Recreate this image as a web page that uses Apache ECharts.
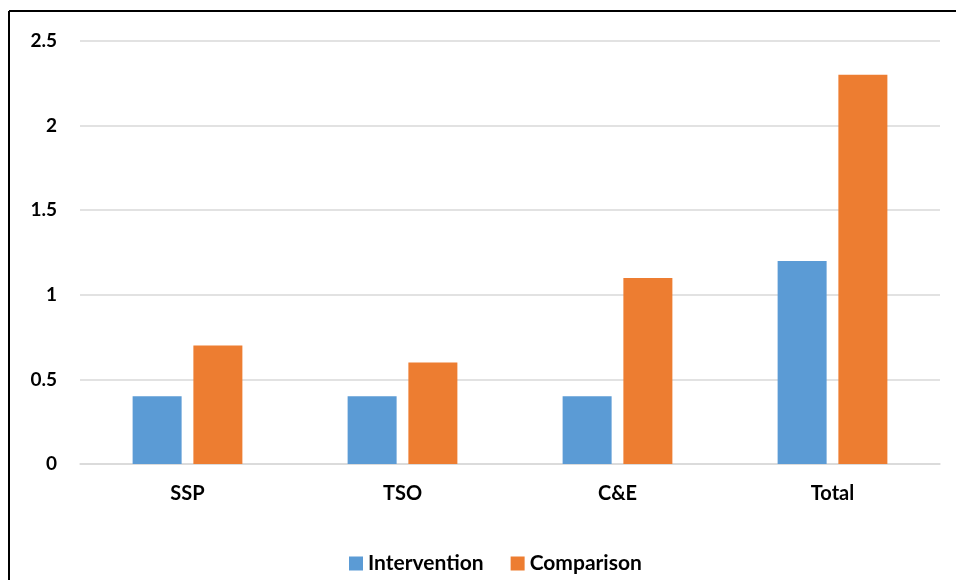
<!DOCTYPE html>
<html>
<head>
<meta charset="utf-8">
<script src="https://cdn.jsdelivr.net/npm/echarts@6/dist/echarts.min.js"></script>
<style>
  html, body { margin: 0; padding: 0; background: #ffffff; }
  #chart { width: 956px; height: 580px; }
</style>
</head>
<body>
<div id="chart"></div>
<script>
// Categories and values
const categories = ['SSP', 'TSO', 'C&E', 'Total'];
const intervention = [0.4, 0.4, 0.4, 1.2];
const comparison = [0.7, 0.6, 1.1, 2.3];
const yTicks = [0, 0.5, 1, 1.5, 2, 2.5];

const FONT = 'Lato';
const chart = echarts.init(document.getElementById('chart'), null, { renderer: 'canvas' });

chart.setOption({
  backgroundColor: '#ffffff',
  animation: false,
  textStyle: { fontFamily: FONT },
  graphic: [
    // frame around the chart area (top and left edges)
    { type: 'line', shape: { x1: 9, y1: 11, x2: 956, y2: 11 }, style: { stroke: '#000', lineWidth: 2 } },
    { type: 'line', shape: { x1: 9, y1: 11, x2: 9, y2: 580 }, style: { stroke: '#000', lineWidth: 2 } }
  ],
  grid: { left: 80, right: 16, top: 41, bottom: 116, containLabel: false },
  legend: {
    bottom: 1,
    left: 344,
    itemWidth: 14,
    itemHeight: 14,
    itemGap: 27,
    icon: 'rect',
    textStyle: { fontFamily: FONT, fontWeight: 'bold', fontSize: 21, color: '#000' },
    data: ['Intervention', 'Comparison']
  },
  xAxis: {
    type: 'category',
    data: categories,
    axisLine: { show: true, lineStyle: { color: '#d9d9d9', width: 1.5 } },
    axisTick: { show: false },
    axisLabel: { margin: 20, fontFamily: FONT, fontWeight: 'bold', fontSize: 20, color: '#000' }
  },
  yAxis: {
    type: 'value',
    min: yTicks[0],
    max: yTicks[yTicks.length - 1],
    interval: 0.5,
    axisLine: { show: false },
    axisTick: { show: false },
    splitLine: { lineStyle: { color: '#d9d9d9', width: 1.5 } },
    axisLabel: { margin: 23, fontFamily: FONT, fontWeight: 'bold', fontSize: 19, color: '#000' }
  },
  series: [
    {
      name: 'Intervention',
      type: 'bar',
      data: intervention,
      barWidth: 49,
      barGap: '24%',
      itemStyle: { color: '#5b9bd5' }
    },
    {
      name: 'Comparison',
      type: 'bar',
      data: comparison,
      barWidth: 49,
      barGap: '24%',
      itemStyle: { color: '#ed7d31' }
    }
  ]
});
</script>
</body>
</html>
